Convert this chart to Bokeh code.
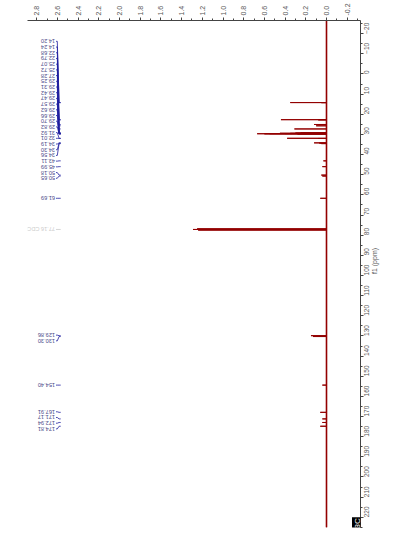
import math
from bokeh.plotting import figure
from bokeh.models import Range1d, FixedTicker, PrintfTickFormatter, Label, ColumnDataSource
from bokeh.core.properties import value
from bokeh.embed import file_html
from bokeh.resources import INLINE

# ---------------- data ----------------
peak_ppm = [14.20, 14.24, 22.68, 22.79, 25.07, 25.72, 27.28, 29.25, 29.31, 29.42,
            29.47, 29.57, 29.62, 29.66, 29.70, 29.82, 31.92, 32.01, 34.19, 34.30,
            34.56, 43.11, 45.99, 50.18, 50.65, 61.69, 76.84, 77.16, 77.48, 129.86,
            130.30, 154.40, 167.91, 171.17, 172.94, 174.81]
peak_int = [0.35, 0.05, 0.44, 0.08, 0.12, 0.10, 0.31, 0.25, 0.30, 0.45,
            0.35, 0.40, 0.55, 0.67, 0.60, 0.28, 0.38, 0.08, 0.12, 0.07,
            0.05, 0.03, 0.04, 0.05, 0.04, 0.06, 1.25, 1.29, 1.24, 0.15,
            0.13, 0.04, 0.06, 0.04, 0.04, 0.06]

# peak labels (groups of labels that are fanned out together)
label_groups = [
    [14.20, 14.24, 22.68, 22.79, 25.07, 25.72, 27.28, 29.25, 29.31, 29.42,
     29.47, 29.57, 29.62, 29.66, 29.70, 29.82, 31.92, 32.01, 34.19, 34.30,
     34.56, 43.11, 45.99, 50.18, 50.65],
    [61.69],
    [129.86, 130.30],
    [154.40],
    [167.91, 171.17, 172.94, 174.81],
]
solvent_label_ppm = 77.16
solvent_label_text = "77.16 CDCl3"

intensity_ticks = [-0.2, 0.0, 0.2, 0.4, 0.6, 0.8, 1.0, 1.2, 1.4, 1.6, 1.8, 2.0,
                   2.2, 2.4, 2.6, 2.8]
intensity_minor = [-0.3, -0.1, 0.1, 0.3, 0.5, 0.7, 0.9, 1.1, 1.3, 1.5, 1.7, 1.9,
                   2.1, 2.3, 2.5, 2.7]
ppm_ticks = [-20, -10, 0, 10, 20, 30, 40, 50, 60, 70, 80, 90, 100, 110, 120, 130,
             140, 150, 160, 170, 180, 190, 200, 210, 220]
ppm_minor = [-25, -15, -5, 5, 15, 25, 35, 45, 55, 65, 75, 85, 95, 105, 115, 125,
             135, 145, 155, 165, 175, 185, 195, 205, 215, 225]
axis_title = "f1 (ppm)"
nucleus = "13C"

# ---------------- layout ----------------
W, H = 414, 544
FRAME_L, FRAME_R, FRAME_T, FRAME_B = 27, 360, 16, 527
PX_PER_PPM = 2.031
PPM0_PX = 69.9
PX_PER_INT = 103.5
INT0_PX = 326.0

def px2ppm(py):
    return (py - PPM0_PX) / PX_PER_PPM

def px2int(px):
    return (INT0_PX - px) / PX_PER_INT

x_lo, x_hi = px2int(FRAME_L), px2int(FRAME_R)
y_lo, y_hi = px2ppm(FRAME_T), px2ppm(FRAME_B)

p = figure(width=W, height=H, output_backend="svg", toolbar_location=None,
           x_range=Range1d(x_lo, x_hi), y_range=Range1d(y_hi, y_lo),
           x_axis_location="above", y_axis_location="right",
           min_border_left=FRAME_L, min_border_right=W - FRAME_R,
           min_border_top=FRAME_T, min_border_bottom=H - FRAME_B)
p.outline_line_color = None
p.grid.visible = False
p.background_fill_color = "white"
p.border_fill_color = "white"

FONT = "Liberation Sans"

xa = p.xaxis[0]
xa.ticker = FixedTicker(ticks=intensity_ticks, minor_ticks=intensity_minor)
xa.formatter = PrintfTickFormatter(format="%.1f")
xa.major_label_orientation = math.pi / 2
xa.major_label_text_font = FONT
xa.major_label_text_font_size = "7px"
xa.major_label_text_color = "#555555"
xa.major_label_standoff = 2
xa.major_tick_out = 3
xa.major_tick_in = 0
xa.minor_tick_out = 2
xa.minor_tick_in = 0
xa.axis_line_color = "#444444"
xa.major_tick_line_color = "#444444"
xa.minor_tick_line_color = "#444444"

ya = p.yaxis[0]
ya.ticker = FixedTicker(ticks=ppm_ticks, minor_ticks=ppm_minor)
ya.major_label_orientation = math.pi / 2
ya.major_label_text_font = FONT
ya.major_label_text_font_size = "6.5px"
ya.major_label_text_color = "#555555"
ya.major_label_standoff = 3
ya.major_tick_out = 3
ya.major_tick_in = 0
ya.minor_tick_out = 2
ya.minor_tick_in = 0
ya.axis_line_color = "#444444"
ya.major_tick_line_color = "#444444"
ya.minor_tick_line_color = "#444444"
ya.axis_label = axis_title
ya.axis_label_orientation = math.pi / 2
ya.axis_label_text_font = FONT
ya.axis_label_text_font_size = "7px"
ya.axis_label_text_font_style = "normal"
ya.axis_label_text_color = "#555555"
ya.axis_label_standoff = 0

# ---------------- spectrum trace ----------------
TRACE = "#930000"
p.line([0.0, 0.0], [y_lo, y_hi], line_color=TRACE, line_width=1.6)
HALF = 0.015
xs, ys = [0.0], [y_lo]
for ppm, h in sorted(zip(peak_ppm, peak_int)):
    xs += [0.0, h, 0.0]
    ys += [ppm - HALF, ppm, ppm + HALF]
xs.append(0.0)
ys.append(y_hi)
p.line(xs, ys, line_color=TRACE, line_width=1.0)

# ---------------- peak labels ----------------
LABEL_GAP_PX = 5.75
group_centers_px = [37.0 + LABEL_GAP_PX * (len(label_groups[0]) - 1) / 2, None, 336.0, None, 419.0]
TEXT_X = px2int(54.5)
C0, C1, C2, C3 = px2int(55.5), px2int(56.8), px2int(58.6), px2int(60.2)

lx, ly, lt = [], [], []
cx, cy = [], []
for grp, cpx in zip(label_groups, group_centers_px):
    n = len(grp)
    for i, ppm in enumerate(grp):
        if cpx is None:
            pos = ppm
        else:
            pos = px2ppm(cpx + LABEL_GAP_PX * (i - (n - 1) / 2))
        lx.append(TEXT_X)
        ly.append(pos)
        lt.append("%.2f" % ppm)
        cx.append([C0, C1, C2, C3])
        cy.append([pos, pos, ppm, ppm])

src = ColumnDataSource(dict(x=lx, y=ly, text=lt))
p.text(x="x", y="y", text="text", source=src, angle=math.pi,
       text_align="left", text_baseline="middle",
       text_font=value(FONT), text_font_size="5.6px", text_color="#4a4a88")
p.multi_line(xs=cx, ys=cy, line_color="#1f1fa0", line_width=0.8)

# solvent label (light grey)
p.text(x=[TEXT_X], y=[solvent_label_ppm], text=[solvent_label_text], angle=math.pi,
       text_align="left", text_baseline="middle",
       text_font=value(FONT), text_font_size="5.6px", text_color="#cccccc")
p.line([C0, C3], [solvent_label_ppm, solvent_label_ppm], line_color="#cccccc", line_width=0.8)

# nucleus badge
p.add_layout(Label(x=px2int(357), y=px2ppm(525), text=nucleus, angle=math.pi / 2,
                   text_align="center", text_baseline="middle",
                   text_font=FONT, text_font_size="8px", text_color="white",
                   background_fill_color="black", background_fill_alpha=1.0,
                   padding=1))

open("out.html", "w").write(file_html(p, INLINE))
